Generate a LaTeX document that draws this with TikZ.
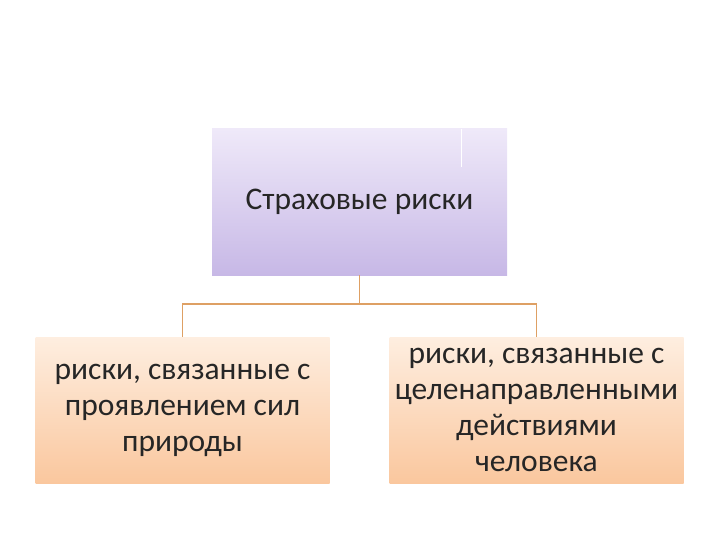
\documentclass[tikz,border=0pt]{standalone}
\usepackage{fontspec}
\setmainfont{Carlito}
\usetikzlibrary{shapes}
\definecolor{lilactop}{RGB}{239,233,249}
\definecolor{lilacbot}{RGB}{199,184,230}
\definecolor{peachtop}{RGB}{254,238,224}
\definecolor{peachbot}{RGB}{250,199,158}
\definecolor{linkline}{RGB}{222,160,100}
\tikzset{
	riskbox/.style = {
		align=center,
		inner sep=0pt,
		rectangle,
		font=\fontsize{31.5}{36}\selectfont,
		text=black!85,
		anchor=center
	},
	node_root/.style = {
		riskbox,
		top color=lilactop,
		bottom color=lilacbot,
		minimum width=295pt,
		minimum height=146pt
	},
	node_leaf/.style = {
		riskbox,
		top color=peachtop,
		bottom color=peachbot,
		minimum width=294pt,
		minimum height=146pt
	},
}

\begin{document}
\begin{tikzpicture}[x=1pt,y=-1pt,level/.style={sibling distance = 354pt, level distance = 208pt},
	edge from parent/.style={draw=linkline, line width=1.8pt},
	edge from parent path={(\tikzparentnode.south) -- ++(0,-29pt) -| (\tikzchildnode.north)}]
\useasboundingbox (0,0) rectangle (720,540);
\node [node_root] (risks) at (359.5,202) {Страховые риски}
child {
	node [node_leaf] (nature) {риски, связанные с\\проявлением сил\\природы}
}
child {
	node [node_leaf] (human) {риски, связанные с\\целенаправленными\\действиями\\человека}
}
;
% faint seam in the top box
\draw [white, line width=0.8pt] ([xshift=-46pt]risks.north east) -- ++(0,38);
\end{tikzpicture}
\end{document}
